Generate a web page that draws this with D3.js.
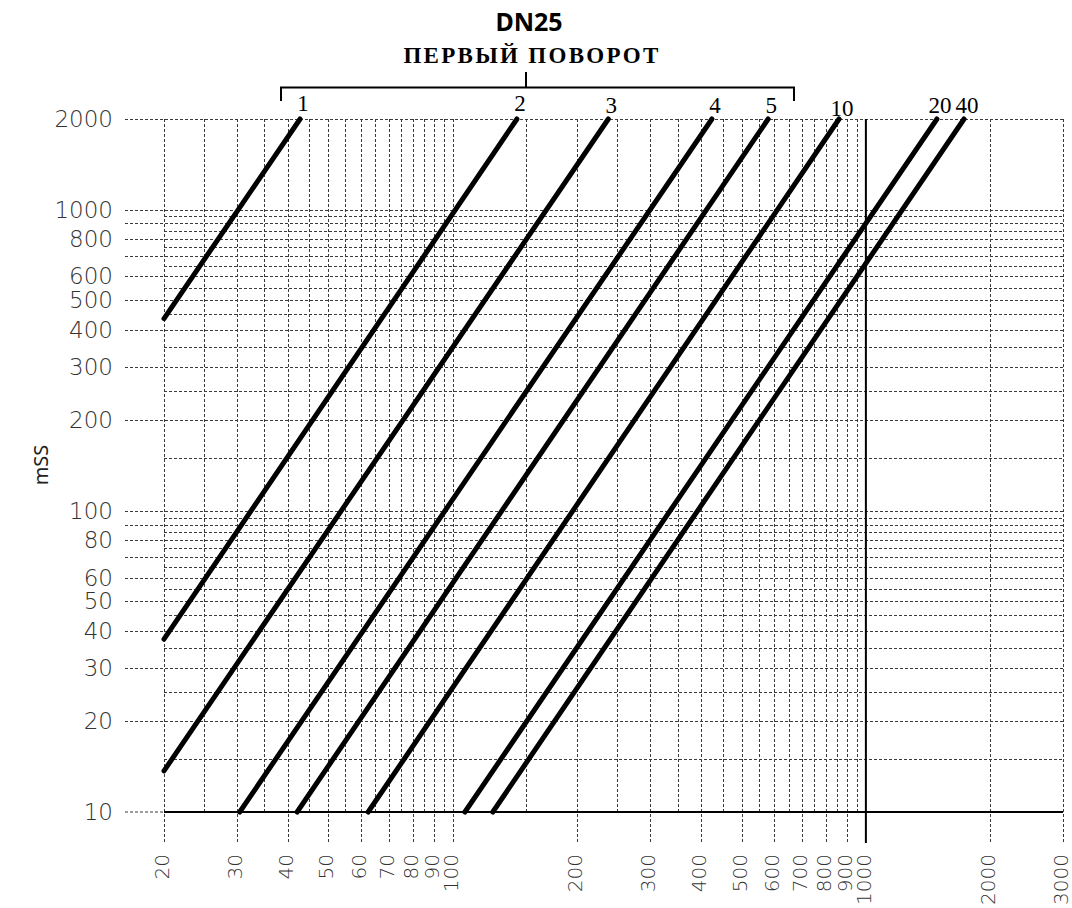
<!DOCTYPE html>
<html><head><meta charset="utf-8">
<script src="https://cdn.jsdelivr.net/npm/d3@7"></script>
<style>body{margin:0;background:#fff;} svg{display:block;}</style>
</head><body>
<svg id="chart" width="1072" height="908"></svg>
<script>
// ---- data ----
const title = "DN25";
const subtitle = "ПЕРВЫЙ ПОВОРОТ";
const yAxisTitle = "mSS";
const seriesNames = ["1", "2", "3", "4", "5", "10", "20", "40"];
const flowStart = [20, 20, 20, 30.5, 42.0, 62.4, 107, 125];
const dpStart   = [435, 37.5, 13.7, 10, 10, 10, 10, 10];
const flowEnd   = [42.7, 143, 238, 424, 580, 861, 1486, 1728];
const dpEnd     = [2000, 2000, 2000, 2000, 2000, 2000, 2000, 2000];
const xTickLabels = [20, 30, 40, 50, 60, 70, 80, 90, 100, 200, 300, 400, 500, 600, 700, 800, 900, 1000, 2000, 3000];
const yTickLabels = [10, 20, 30, 40, 50, 60, 80, 100, 200, 300, 400, 500, 600, 800, 1000, 2000];
const xGridValues = d3.range(20, 100, 5).concat(d3.range(100, 1000, 50)).concat([2000, 3000]);
const yGridValues = d3.range(15, 100, 5).concat(d3.range(100, 1000, 50)).concat([1000, 2000]);

// ---- layout ----
const svg = d3.select("#chart");
const x = d3.scaleLog().domain([20, 3000]).range([164, 1063]);
const y = d3.scaleLog().domain([10, 2000]).range([812, 119]);
const xLeftExt = 125, yBottomExt = 843;
const gridColor = "#3a3a3a";
const dash = "3,2";

const isMajorX = v => (v <= 100 ? v % 10 === 0 : v % 100 === 0);
const isMajorY = v => (v <= 100 ? v % 10 === 0 : v % 100 === 0);

const grid = svg.append("g");
grid.selectAll("line.h").data(yGridValues).join("line")
  .attr("x1", d => isMajorY(d) ? xLeftExt : x(20))
  .attr("x2", x(3000))
  .attr("y1", d => Math.round(y(d)) + 0.5)
  .attr("y2", d => Math.round(y(d)) + 0.5)
  .attr("stroke", gridColor).attr("stroke-width", 1).attr("stroke-dasharray", dash);
grid.selectAll("line.v").data(xGridValues).join("line")
  .attr("x1", d => Math.round(x(d)) + 0.5)
  .attr("x2", d => Math.round(x(d)) + 0.5)
  .attr("y1", y(2000))
  .attr("y2", d => isMajorX(d) ? yBottomExt : y(10))
  .attr("stroke", gridColor).attr("stroke-width", 1).attr("stroke-dasharray", dash);
grid.append("line").attr("x1", xLeftExt).attr("x2", x(20)).attr("y1", y(10)).attr("y2", y(10))
  .attr("stroke", gridColor).attr("stroke-dasharray", dash);
grid.append("line").attr("x1", x(20)).attr("x2", x(3000)).attr("y1", y(10)).attr("y2", y(10))
  .attr("stroke", "#000").attr("stroke-width", 2);
grid.append("line").attr("x1", x(1000)).attr("x2", x(1000)).attr("y1", y(2000)).attr("y2", yBottomExt)
  .attr("stroke", "#000").attr("stroke-width", 2);

// y tick labels
svg.append("g").selectAll("text").data(yTickLabels).join("text")
  .attr("x", 113).attr("y", d => y(d))
  .attr("text-anchor", "end").attr("dominant-baseline", "central")
  .attr("font-family", "DejaVu Sans").attr("font-weight", 200).attr("font-size", 23).attr("fill", "#333")
  .text(d => d);

// x tick labels
svg.append("g").selectAll("text").data(xTickLabels).join("text")
  .attr("transform", d => `translate(${x(d) - 2},854) rotate(-90)`)
  .attr("text-anchor", "end").attr("dominant-baseline", "central")
  .attr("font-family", "DejaVu Sans").attr("font-weight", 200).attr("font-size", 20).attr("fill", "#333")
  .text(d => d);

// series lines
const series = seriesNames.map((n, i) => ({name: n, pts: [[flowStart[i], dpStart[i]], [flowEnd[i], dpEnd[i]]]}));
const lineGen = d3.line().x(d => x(d[0])).y(d => y(d[1]));
svg.append("g").selectAll("path").data(series).join("path")
  .attr("d", d => lineGen(d.pts))
  .attr("fill", "none").attr("stroke", "#000").attr("stroke-width", 5).attr("stroke-linecap", "round");

// series labels
const labelDy = {"1": 111, "2": 111, "3": 113, "4": 113, "5": 113, "10": 116, "20": 113, "40": 113};
svg.append("g").selectAll("text").data(series).join("text")
  .attr("x", d => x(d.pts[1][0]) + 3).attr("y", d => labelDy[d.name])
  .attr("text-anchor", "middle")
  .attr("font-family", "Liberation Serif").attr("font-size", 23).attr("fill", "#000")
  .text(d => d.name);

// bracket for first turn
const bx1 = 281, bx2 = 794, by = 87.5, bc = 526;
svg.append("path")
  .attr("d", `M${bx1},101V${by}H${bx2}V101M${bc},${by}V72`)
  .attr("fill", "none").attr("stroke", "#000").attr("stroke-width", 2);

// titles
svg.append("text").attr("x", 529).attr("y", 31).attr("text-anchor", "middle")
  .attr("font-family", "Noto Sans").attr("font-weight", "bold").attr("font-size", 25).attr("fill", "#000")
  .text(title);
svg.append("text").attr("x", 532).attr("y", 63).attr("text-anchor", "middle")
  .attr("font-family", "Liberation Serif").attr("font-weight", "bold").attr("font-size", 23)
  .attr("letter-spacing", 2.3).attr("fill", "#000")
  .text(subtitle);

// y axis title
svg.append("text").attr("transform", "translate(40,465) rotate(-90)")
  .attr("text-anchor", "middle").attr("dominant-baseline", "central")
  .attr("font-family", "Noto Sans").attr("font-size", 20).attr("fill", "#222")
  .text(yAxisTitle);
</script>
</body></html>
